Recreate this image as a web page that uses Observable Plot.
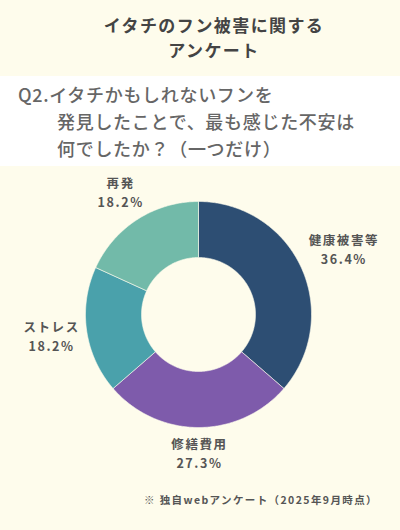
<!DOCTYPE html>
<html><head><meta charset="utf-8">
<script src="https://cdn.jsdelivr.net/npm/d3@7"></script>
<script src="https://cdn.jsdelivr.net/npm/@observablehq/plot@0.6"></script>
<style>
html,body{margin:0;padding:0;background:#fefcec;width:400px;height:530px;overflow:hidden;font-family:"Noto Sans CJK JP","Noto Sans",sans-serif;}
#head{height:76px;box-sizing:border-box;padding-top:12px;padding-left:28px;text-align:center;font-size:17px;font-weight:bold;color:#444;line-height:25px;letter-spacing:1.4px;}
#q{height:90px;background:#fff;box-sizing:border-box;padding-top:5px;padding-left:18px;font-size:18px;font-weight:500;color:#666;line-height:27px;letter-spacing:0.7px;white-space:nowrap;}
#q .ind{padding-left:39px;}
#chart{height:320px;}
#chart svg text{letter-spacing:1.6px;}
#cap{font-size:10.5px;font-weight:bold;color:#555;text-align:right;padding-right:22px;letter-spacing:1.4px;margin-top:6px;}
</style></head>
<body>
<div id="head">イタチのフン被害に関する<br>アンケート</div>
<div id="q">Q2.イタチかもしれないフンを<br><span class="ind">発見したことで、最も感じた不安は</span><br><span class="ind">何でしたか？（一つだけ）</span></div>
<div id="chart"></div>
<div id="cap">※ 独自webアンケート（2025年9月時点）</div>
<script>
const categories = ["健康被害等", "修繕費用", "ストレス", "再発"];
const values = [36.4, 27.3, 18.2, 18.2];
const colors = ["#2d4e73", "#7e5bab", "#4aa1ab", "#72baa9"];

const R_OUT = 113, R_IN = 57, R_LAB = 119;
const pie = d3.pie().sort(null).value(d => d.value)(categories.map((c, i) => ({name: c, value: values[i]})));

const pts = [];
pie.forEach(s => {
  const n = Math.max(4, Math.ceil((s.endAngle - s.startAngle) / 0.01));
  for (let k = 0; k <= n; k++) {
    const a = s.startAngle + (s.endAngle - s.startAngle) * k / n;
    pts.push({name: s.data.name, x: R_OUT * Math.sin(a), y: R_OUT * Math.cos(a)});
  }
  for (let k = n; k >= 0; k--) {
    const a = s.startAngle + (s.endAngle - s.startAngle) * k / n;
    pts.push({name: s.data.name, x: R_IN * Math.sin(a), y: R_IN * Math.cos(a)});
  }
  const a0 = s.startAngle;
  pts.push({name: s.data.name, x: R_OUT * Math.sin(a0), y: R_OUT * Math.cos(a0)});
});

const labels = pie.map(s => {
  const a = (s.startAngle + s.endAngle) / 2;
  const pct = s.data.value.toFixed(1) + "%";
  const w = Math.max(s.data.name.length * 14, pct.length * 8);
  const d = R_LAB + Math.abs(Math.sin(a)) * w / 2 + Math.abs(Math.cos(a)) * 19;
  return {x: d * Math.sin(a) + 1, y: d * Math.cos(a), text: s.data.name + "\n" + pct};
});

const chart = Plot.plot({
  width: 400, height: 320,
  margin: 0,
  x: {domain: [-198, 202], axis: null},
  y: {domain: [-172, 148], axis: null},
  color: {domain: categories, range: colors},
  style: {background: "transparent"},
  marks: [
    Plot.line(pts, {x: "x", y: "y", z: "name", fill: "name", stroke: "#fefcec", strokeWidth: 0.6, curve: "linear"}),
    Plot.text(labels, {x: "x", y: "y", text: "text", fontSize: 12.5, fontWeight: "bold", fill: "#555", lineHeight: 1.5, fontFamily: "'Noto Sans CJK JP', sans-serif"})
  ]
});
document.getElementById("chart").appendChild(chart);
</script>
</body></html>
